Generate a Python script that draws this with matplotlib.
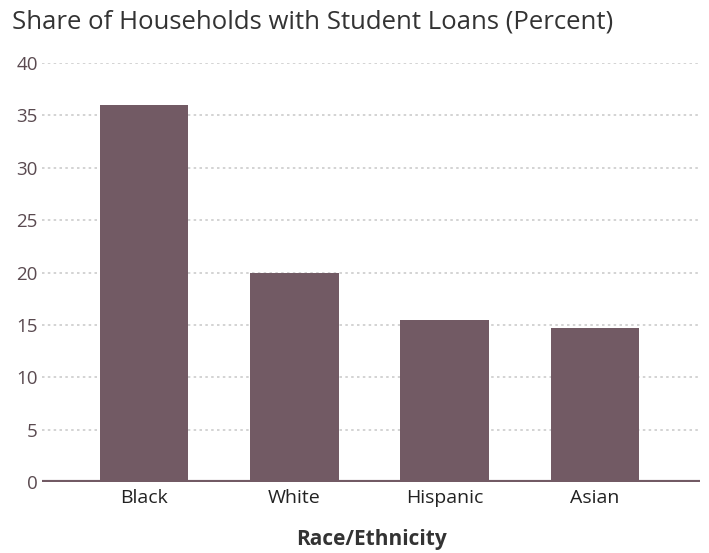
import matplotlib
matplotlib.use("Agg")
import matplotlib.pyplot as plt

# data
groups = ["Black", "White", "Hispanic", "Asian"]
share = [36.0, 20.0, 15.5, 14.7]
yticks = [0, 5, 10, 15, 20, 25, 30, 35, 40]

bar_color = "#725a64"
text_color = "#5a4a50"

plt.rcParams['font.family'] = ['Open Sans', 'DejaVu Sans']

fig = plt.figure(figsize=(7.09, 5.53), dpi=100)
ax = fig.add_axes([42 / 709, 71 / 553, 658 / 709, 419 / 553])

x = range(len(groups))
ax.bar(x, share, width=0.59, color=bar_color, zorder=3)

ax.set_ylim(0, 40)
ax.set_xlim(-0.68, 3.7)
ax.set_yticks(yticks)
ax.set_yticklabels([str(t) for t in yticks], fontsize=13.5, color=text_color)
ax.set_xticks(list(x))
ax.set_xticklabels(groups, fontsize=14, color="#222222")
ax.tick_params(axis="both", length=0, pad=3)
ax.tick_params(axis="x", pad=5)

for t in yticks[1:]:
    ax.axhline(t, color="#cccccc", lw=1.2, ls=(0, (1.5, 2)), zorder=1)
ax.axhline(0, color=bar_color, lw=3, zorder=4)

for s in ax.spines.values():
    s.set_visible(False)

ax.set_xlabel("Race/Ethnicity", fontsize=15, fontweight="bold", color="#333333", labelpad=16)
fig.text(12 / 709, 1 - 22 / 553, "Share of Households with Student Loans (Percent)",
         fontsize=18.5, color="#333333", va="center", ha="left")

fig.savefig("out.png", dpi=100, facecolor="white")
